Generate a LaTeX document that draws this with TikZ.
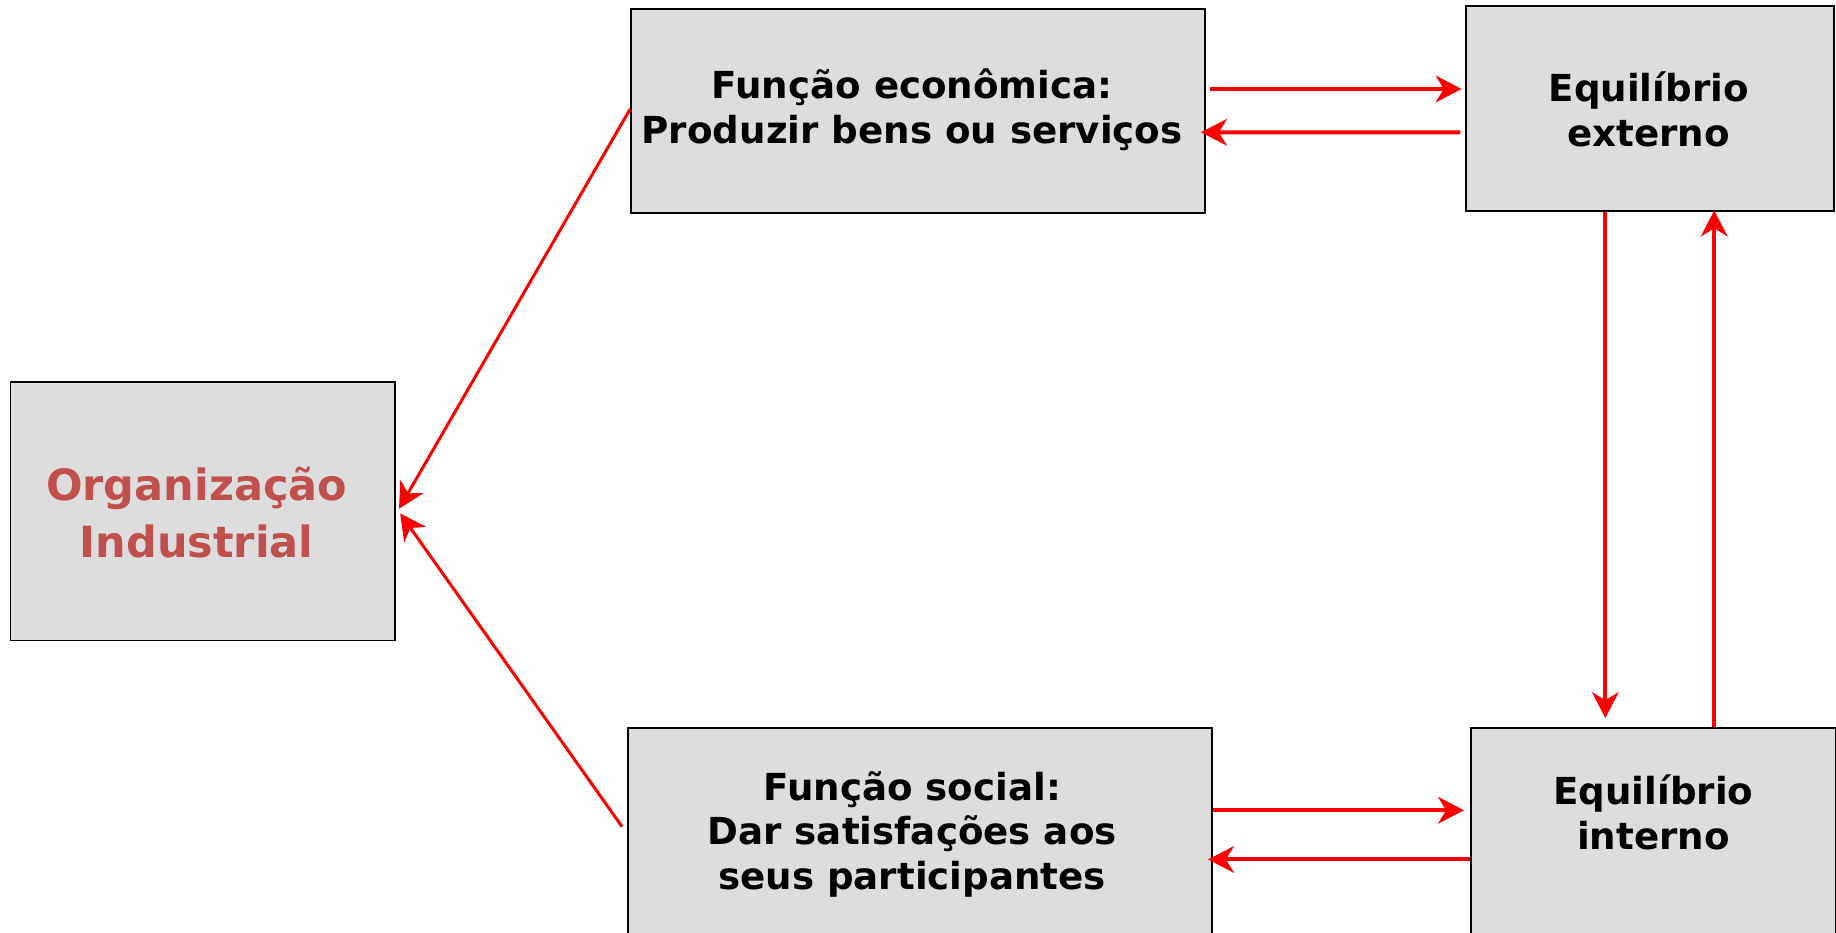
\documentclass[tikz,border=0pt]{standalone}
\usepackage{fontspec}
\setmainfont{DejaVu Sans}
\usetikzlibrary{arrows.meta,calc}
\definecolor{boxfill}{HTML}{DDDDDD}
\definecolor{arrred}{HTML}{FF0000}
\definecolor{titlered}{HTML}{C0504D}
\tikzset{
  box/.style={draw=black, line width=0.9pt, fill=boxfill, rectangle, inner sep=0pt},
  txt/.style={align=center, font=\fontsize{18.6}{22.3}\selectfont\bfseries, text=black, inner sep=0pt},
  bigtxt/.style={align=center, font=\fontsize{21.5}{28.7}\selectfont\bfseries, text=titlered, inner sep=0pt},
  arr/.style={draw=arrred, line width=2pt, -{Stealth[length=12.9pt, width=13.3pt, inset=4pt]}},
  diag/.style={draw=arrred, line width=1.5pt, -{Stealth[length=12.9pt, width=13.3pt, inset=4pt]}},
}
\begin{document}
\begin{tikzpicture}[x=0.5855pt, y=-0.5855pt]
\useasboundingbox (0,0) rectangle (1568,796);
\fill[white] (0,0) rectangle (1568,796);
% boxes
\node[box, minimum width=490*0.5855pt, minimum height=174*0.5855pt] (fe) at (784,95) {};
\node[box, minimum width=314*0.5855pt, minimum height=175*0.5855pt] (ee) at (1409,92.5) {};
\node[box, minimum width=328*0.5855pt, minimum height=221*0.5855pt] (oi) at (173,436.5) {};
\node[box, minimum width=499*0.5855pt, minimum height=180*0.5855pt] (fs) at (785.5,712) {};
\node[box, minimum width=312*0.5855pt, minimum height=180*0.5855pt] (ei) at (1412,712) {};
% texts
\node[txt] (fet) at (779,93.5) {Função econômica:\\Produzir bens ou serviços};
\node[txt] (eet) at (1408,93.5) {Equilíbrio\\externo};
\node[bigtxt] (oit) at (168,438) {Organização\\Industrial};
\node[txt] (fst) at (779,712.5) {Função social:\\Dar satisfações aos\\seus participantes};
\node[txt] (eit) at (1412,694) {Equilíbrio\\interno};
% connectors
\draw[arr] ($(fe.east)+(4,-19)$) -- ($(ee.west)+(-3,-16.5)$);
\draw[arr] ($(ee.west)+(-4,20.5)$) -- ($(fe.east)+(-4,18)$);
\draw[arr] ($(ee.south)+(-38,0)$) -- ($(ei.north)+(-41,-8)$);
\draw[arr] ($(ei.north)+(52,0)$) -- ($(ee.south)+(55,-1)$);
\draw[arr] ($(fs.east)+(0,-20)$) -- ($(ei.west)+(-5,-20)$);
\draw[arr] ($(ei.west)+(0,22)$) -- ($(fs.east)+(-4,22)$);
\draw[diag] ($(fe.west)+(0,-2)$) -- ($(oi.east)+(3,-2)$);
\draw[diag] ($(fs.west)+(-4,-6)$) -- ($(oi.east)+(4,2)$);
\end{tikzpicture}
\end{document}
